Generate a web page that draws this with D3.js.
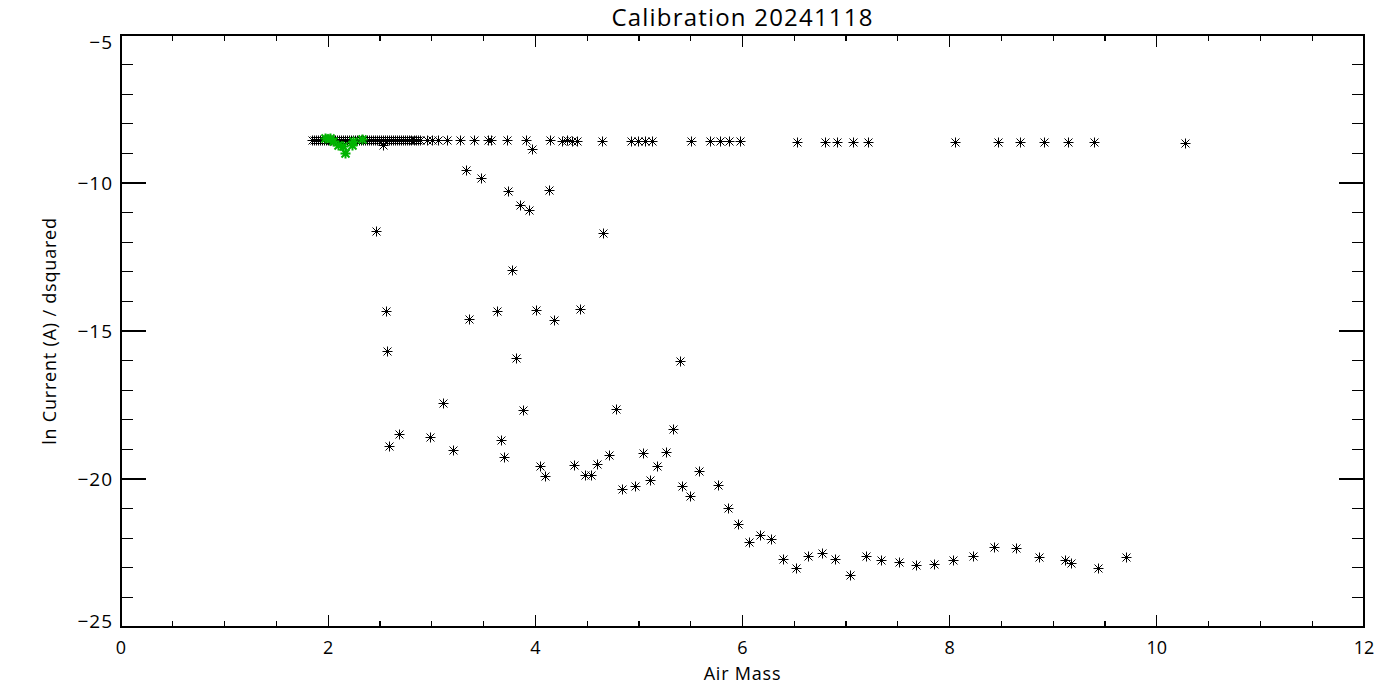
<!DOCTYPE html>
<html>
<head>
<meta charset="utf-8">
<script src="https://cdn.jsdelivr.net/npm/d3@7"></script>
<style>
  body { margin: 0; background: #fff; }
  svg text { font-family: "Open Sans", "DejaVu Sans", sans-serif; font-weight: 400; fill: #000; }
</style>
</head>
<body>
<svg id="chart"></svg>
<script>
// measurements: air mass vs ln current / dsquared (black = all, green = selected)
const airMass = [
  1.844, 1.863, 1.883, 1.902, 1.921, 1.940, 1.960, 1.979, 1.998, 2.013, 2.027, 2.047, 2.066, 2.085,
  2.105, 2.124, 2.143, 2.162, 2.182, 2.201, 2.221, 2.240, 2.259, 2.278, 2.298, 2.317, 2.336, 2.355,
  2.375, 2.394, 2.414, 2.433, 2.452, 2.471, 2.491, 2.510, 2.529, 2.548, 2.568, 2.587, 2.607, 2.626,
  2.645, 2.664, 2.684, 2.703, 2.723, 2.742, 2.761, 2.780, 2.800, 2.824, 2.848, 2.867, 2.887,
  2.954, 3.003, 3.060, 3.147, 3.273, 3.408, 3.543, 3.572, 3.727, 3.910, 4.142, 4.258, 4.306, 4.354,
  4.403, 4.644, 4.924, 4.991, 5.059, 5.127, 5.503, 5.687, 5.783, 5.870, 5.976, 6.526, 6.797, 6.913,
  7.067, 7.212, 8.052, 8.467, 8.679, 8.911, 9.143, 9.394, 10.272,
  3.968, 2.529, 3.331, 3.476, 3.736, 4.132, 3.852, 3.939, 2.462, 4.653, 3.775, 2.558, 3.360, 3.630,
  4.007, 4.180, 4.431, 2.568, 3.813, 5.397, 3.109, 3.881, 4.779, 5.329, 2.684, 2.587, 2.983, 3.205,
  3.669, 3.698, 4.045, 4.093, 4.373, 4.480, 4.538, 4.595, 4.711, 4.837, 4.962, 5.040, 5.107, 5.175,
  5.262, 5.416, 5.493, 5.580, 5.764, 5.860, 5.957, 6.063, 6.169, 6.275, 6.391, 6.517, 6.633, 6.768,
  6.893, 7.038, 7.193, 7.337, 7.511, 7.675, 7.849, 8.032, 8.226, 8.428, 8.641, 8.863, 9.114, 9.172,
  9.432, 9.703
];
const lnCurrent = [
  -8.54, -8.55, -8.54, -8.55, -8.55, -8.54, -8.54, -8.55, -8.55, -8.54, -8.55, -8.55, -8.54, -8.55,
  -8.55, -8.54, -8.55, -8.55, -8.54, -8.55, -8.55, -8.54, -8.55, -8.55, -8.54, -8.55, -8.55, -8.54,
  -8.55, -8.55, -8.54, -8.55, -8.55, -8.54, -8.55, -8.55, -8.54, -8.55, -8.55, -8.54, -8.55, -8.55,
  -8.55, -8.54, -8.54, -8.55, -8.55, -8.55, -8.55, -8.54, -8.55, -8.55, -8.55, -8.55, -8.55,
  -8.55, -8.55, -8.56, -8.55, -8.55, -8.55, -8.56, -8.55, -8.56, -8.56, -8.56, -8.57, -8.56, -8.57,
  -8.57, -8.57, -8.58, -8.58, -8.58, -8.58, -8.58, -8.59, -8.59, -8.59, -8.59, -8.60, -8.60, -8.60,
  -8.60, -8.60, -8.62, -8.63, -8.63, -8.63, -8.63, -8.63, -8.64,
  -8.85, -8.72, -9.56, -9.83, -10.27, -10.24, -10.74, -10.91, -11.62, -11.69, -12.94, -14.32, -14.59, -14.32,
  -14.29, -14.63, -14.26, -15.68, -15.91, -16.01, -17.43, -17.67, -17.64, -18.31, -18.48, -18.89, -18.58, -19.02,
  -18.68, -19.26, -19.56, -19.90, -19.53, -19.86, -19.86, -19.49, -19.19, -20.34, -20.24, -19.12, -20.03, -19.56,
  -19.09, -20.24, -20.57, -19.73, -20.20, -20.98, -21.52, -22.13, -21.89, -22.03, -22.70, -23.01, -22.60, -22.50,
  -22.70, -23.24, -22.60, -22.74, -22.80, -22.91, -22.87, -22.74, -22.60, -22.30, -22.33, -22.64, -22.74, -22.84,
  -23.01, -22.64
];
const selAirMass = [1.969, 2.017, 2.047, 2.095, 2.143, 2.163, 2.230, 2.240, 2.327];
const selLnCurrent = [-8.48, -8.48, -8.58, -8.72, -8.75, -8.99, -8.72, -8.58, -8.51];

const xTicks = [0, 2, 4, 6, 8, 10, 12];
const yTicks = [-25, -20, -15, -10, -5];

const W = 1400, H = 700;
const margin = {top: 35, right: 36, bottom: 73, left: 121};
const iw = W - margin.left - margin.right;
const ih = H - margin.top - margin.bottom;

const svg = d3.select('#chart').attr('width', W).attr('height', H);
const chart = svg.append('g').attr('transform', `translate(${margin.left}, ${margin.top})`);

const xscale = d3.scaleLinear().domain([0, 12]).range([0, iw]);
const yscale = d3.scaleLinear().domain([-25, -5]).range([ih, 0]);

// frame
chart.append('rect')
  .attr('x', 0).attr('y', 0).attr('width', iw).attr('height', ih)
  .attr('fill', 'none').attr('stroke', '#000').attr('stroke-width', 1.2)
  .attr('shape-rendering', 'crispEdges');

// ticks on all four sides, IDL style (inward)
const xMinor = d3.range(0, 12.001, 0.5);
const yMinor = d3.range(-25, -4.999, 1);
const xlen = v => xTicks.includes(v) ? 12 : 6;
const ylen = v => yTicks.includes(v) ? 25 : 12;

const tg = chart.append('g').attr('stroke', '#000').attr('stroke-width', 1.2).attr('shape-rendering', 'crispEdges');
xMinor.forEach(v => {
  tg.append('line').attr('x1', xscale(v)).attr('x2', xscale(v)).attr('y1', ih).attr('y2', ih - xlen(v));
  tg.append('line').attr('x1', xscale(v)).attr('x2', xscale(v)).attr('y1', 0).attr('y2', xlen(v));
});
yMinor.forEach(v => {
  tg.append('line').attr('y1', yscale(v)).attr('y2', yscale(v)).attr('x1', 0).attr('x2', ylen(v));
  tg.append('line').attr('y1', yscale(v)).attr('y2', yscale(v)).attr('x1', iw).attr('x2', iw - ylen(v));
});

// tick labels
chart.selectAll('.xl').data(xTicks).join('text')
  .attr('x', d => xscale(d)).attr('y', ih + 27)
  .attr('text-anchor', 'middle').style('font-size', '18px')
  .text(d => d);

chart.selectAll('.yl').data(yTicks).join('text')
  .attr('x', -8)
  .attr('y', d => d === -5 ? yscale(d) + 14 : (d === -25 ? yscale(d) + 1 : yscale(d) + 7))
  .attr('text-anchor', 'end').style('font-size', '19px').style('letter-spacing', '1px')
  .text(d => '\u2212' + Math.abs(d));

// titles
svg.append('text')
  .attr('x', margin.left + iw / 2).attr('y', 26)
  .attr('text-anchor', 'middle').style('font-size', '24px').style('letter-spacing', '1.2px')
  .text('Calibration 20241118');

svg.append('text')
  .attr('x', margin.left + iw / 2).attr('y', 680)
  .attr('text-anchor', 'middle').style('font-size', '18px').style('letter-spacing', '0.8px')
  .text('Air Mass');

svg.append('text')
  .attr('transform', 'rotate(-90)')
  .attr('x', -(margin.top + ih / 2)).attr('y', 56)
  .attr('text-anchor', 'middle').style('font-size', '18px').style('letter-spacing', '0.8px')
  .text('ln Current (A) / dsquared');

// asterisk symbol (psym=2)
const star = 'M-5,0H5M0,-5V5M-4,-4L4,4M-4,4L4,-4';
function drawStars(xs, ys, color, width) {
  const g = chart.append('g');
  const pts = xs.map((x, i) => ({x: x, y: ys[i]}));
  const s = g.selectAll('g').data(pts).join('g')
    .attr('transform', d => `translate(${Math.round(xscale(d.x)) + 0.5}, ${Math.round(yscale(d.y)) + 0.5})`);
  s.append('path').attr('d', star).attr('stroke', color).attr('stroke-width', width).attr('fill', 'none');
  s.append('rect').attr('x', -1.5).attr('y', -1.5).attr('width', 3).attr('height', 3).attr('fill', color);
}
drawStars(airMass, lnCurrent, '#000', 1);
drawStars(selAirMass, selLnCurrent, '#00b400', 2);
</script>
</body>
</html>
